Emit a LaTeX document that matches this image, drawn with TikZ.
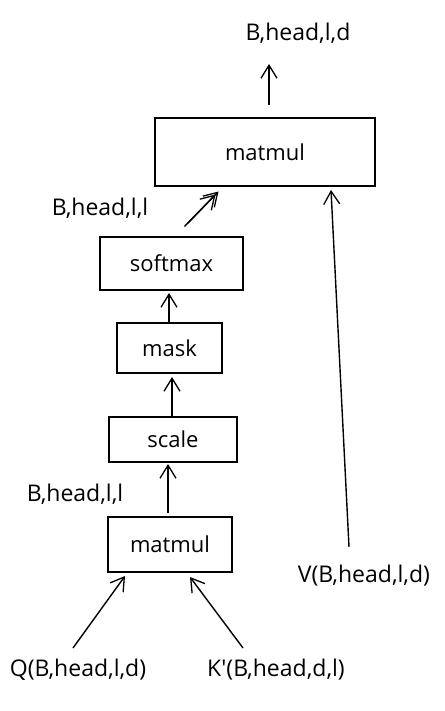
\documentclass[tikz,border=0pt]{standalone}
\usepackage{fontspec}
\setmainfont{Open Sans}
\usetikzlibrary{arrows.meta}
\tikzset{
  box/.style={draw, line width=1.4pt, inner sep=0pt, font=\fontsize{22}{26}\selectfont},
  lbl/.style={inner sep=0pt, font=\fontsize{23}{27}\selectfont},
  arr/.style={line width=1.4pt, -{Straight Barb[length=13pt,width=16pt,line width=1.3pt]}},
}
\begin{document}
\begin{tikzpicture}[x=1pt,y=-1pt]
\useasboundingbox[fill=white] (0,0) rectangle (444,711);
% boxes
\node[box, minimum width=220pt, minimum height=68pt] (mm2) at (265,152) {matmul};
\node[box, minimum width=143pt, minimum height=53pt] (sm) at (171.5,263.5) {softmax};
\node[box, minimum width=105pt, minimum height=50pt] (mask) at (169.5,348) {mask};
\node[box, minimum width=128pt, minimum height=45pt] (scale) at (173,439.5) {scale};
\node[box, minimum width=124pt, minimum height=55pt] (mm1) at (170,544.5) {matmul};
% labels
\node[lbl] (out) at (298,33) {B,head,l,d};
\node[lbl] (l1) at (100,208) {B,head,l,l};
\node[lbl] (l2) at (75,494) {B,head,l,l};
\node[lbl] (q) at (78,670) {Q(B,head,l,d)};
\node[lbl] (k) at (276,670) {K{\addfontfeature{Ligatures=TeXOff}'}(B,head,d,l)};
\node[lbl] (v) at (364,576) {V(B,head,l,d)};
% coordinates
\coordinate (o1) at (269,105); \coordinate (o2) at (269,64);
\coordinate (s1) at (186,225); \coordinate (s2) at (217,193);
\coordinate (m1) at (169,322); \coordinate (m2) at (169,293);
\coordinate (c1) at (172,416); \coordinate (c2) at (172,377);
\coordinate (a1) at (168,513); \coordinate (a2) at (168,464);
\coordinate (q1) at (73,648); \coordinate (q2) at (125,576);
\coordinate (k1) at (243,648); \coordinate (k2) at (190,577);
\coordinate (v1) at (349,547); \coordinate (v2) at (331,190);
% arrows
\draw[arr] ([xshift=-1.5pt,yshift=-1.5pt]s1) -- ([xshift=-1.5pt,yshift=-1.5pt]s2);
\draw[arr] ([xshift=1.5pt,yshift=1.5pt]s1) -- ([xshift=1.5pt,yshift=1.5pt]s2);
\draw[arr] (o1) -- (o2);
\draw[arr] (m1) -- (m2);
\draw[arr] (c1) -- (c2);
\draw[arr] (a1) -- (a2);
\draw[arr] (q1) -- (q2);
\draw[arr] (k1) -- (k2);
\draw[arr] (v1) -- (v2);
\end{tikzpicture}
\end{document}
